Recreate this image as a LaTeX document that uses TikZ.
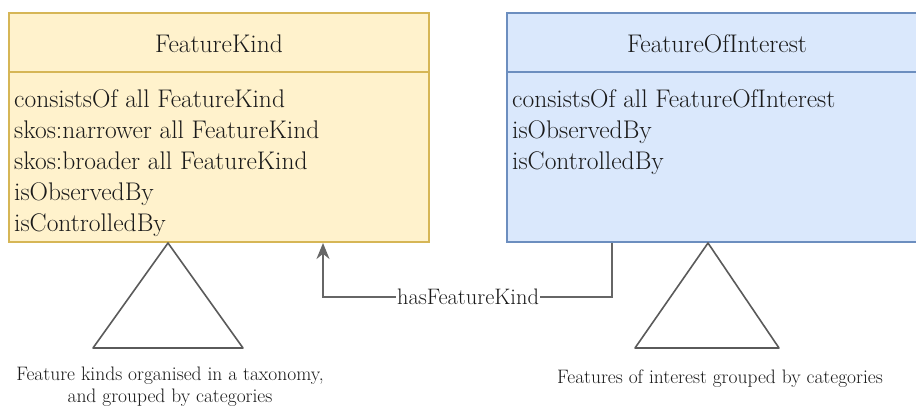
\documentclass[tikz,border=0pt]{standalone}
\usetikzlibrary{arrows.meta}
\definecolor{fkfill}{HTML}{FFF2CC}
\definecolor{fkline}{HTML}{D6B656}
\definecolor{foifill}{HTML}{DAE8FC}
\definecolor{foiline}{HTML}{6C8EBF}
\definecolor{connc}{HTML}{666666}
\definecolor{tric}{HTML}{5A5A5A}
\definecolor{txt}{HTML}{1A1A1A}
\tikzset{
  classbox/.style={rectangle, minimum width=420pt, minimum height=229pt, inner sep=0pt, line width=2pt},
  titletext/.style={anchor=base, inner sep=0pt, text=txt, font=\fontsize{25.5}{30}\selectfont},
  bodytext/.style={anchor=base west, inner sep=0pt, text=txt, font=\fontsize{25.5}{31}\selectfont},
  notetext/.style={anchor=base, inner sep=0pt, text=txt, align=center, font=\fontsize{19.5}{22}\selectfont},
  tri/.style={draw=tric, line width=1.6pt, line join=round},
  connector/.style={draw=connc, line width=2pt, -{Stealth[length=16pt,width=13pt]}},
  conlabel/.style={fill=white, inner sep=1pt, text=txt, font=\fontsize{22.4}{26}\selectfont}
}
\begin{document}
\begin{tikzpicture}[x=1pt,y=-1pt]
\useasboundingbox (0,0) rectangle (916,408);
\clip (0,0) rectangle (916,408);
\fill[white] (0,0) rectangle (916,408);

% FeatureKind box
\node[classbox, fill=fkfill, draw=fkline] (fk) at (219,127.5) {};
\draw[fkline, line width=2pt] (fk.west |- 0,72) -- (fk.east |- 0,72);
\node[titletext] (fkt) at (219,52) {FeatureKind};
\node[bodytext] (fk1) at (14,107) {consistsOf all FeatureKind};
\node[bodytext] (fk2) at (14,138) {skos:narrower all FeatureKind};
\node[bodytext] (fk3) at (14,169) {skos:broader all FeatureKind};
\node[bodytext] (fk4) at (14,200) {isObservedBy};
\node[bodytext] (fk5) at (14,231) {isControlledBy};

% FeatureOfInterest box
\node[classbox, fill=foifill, draw=foiline] (foi) at (717,127.5) {};
\draw[foiline, line width=2pt] (foi.west |- 0,72) -- (foi.east |- 0,72);
\node[titletext] (foit) at (717,52) {FeatureOfInterest};
\node[bodytext] (foi1) at (512,107) {consistsOf all FeatureOfInterest};
\node[bodytext] (foi2) at (512,138) {isObservedBy};
\node[bodytext] (foi3) at (512,169) {isControlledBy};

% triangles
\coordinate (t1) at (fk.south -| 168,0);
\coordinate (t2) at (foi.south -| 708,0);
\draw[tri] (t1) -- (93,348) -- (243,348) -- cycle;
\draw[tri] (t2) -- (635,348) -- (779,348) -- cycle;

% notes
\node[notetext] (n1) at (170,402) {Feature kinds organised in a taxonomy,\\and grouped by categories};
\node[notetext] (n2) at (720,383) {Features of interest grouped by categories};

% connector
\coordinate (c1) at (foi.south -| 612,0);
\coordinate (c2) at (fk.south -| 323,0);
\draw[connector] (c1) -- (612,297) -- (323,297) -- (c2);
\node[conlabel] (lbl) at (468,297) {hasFeatureKind};
\end{tikzpicture}
\end{document}
